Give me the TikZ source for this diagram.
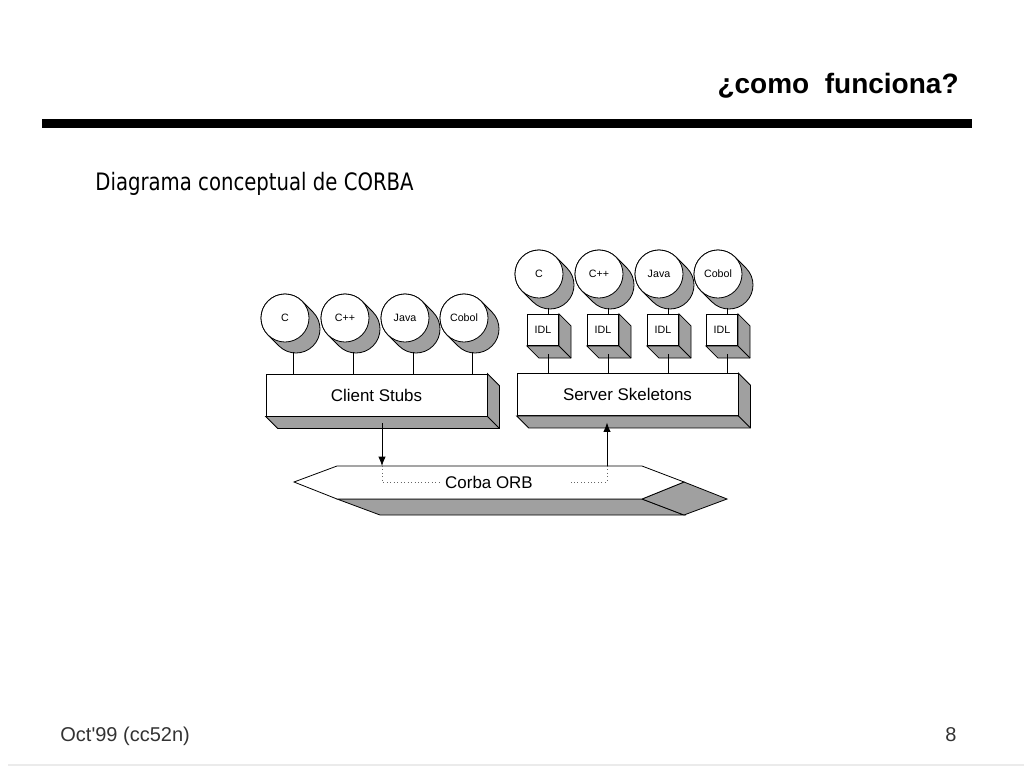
\documentclass[tikz,border=0pt]{standalone}
\usepackage{fontspec}
\setmainfont{Liberation Sans}
\newfontfamily\subfont[FakeStretch=0.82]{DejaVu Sans}
\newfontfamily\footfont{Liberation Sans}
\usetikzlibrary{arrows.meta}
\usetikzlibrary{calc}
\definecolor{shade}{HTML}{A0A0A0}

\begin{document}
\begin{tikzpicture}[x=0.75pt,y=-0.75pt,line width=0.6pt,
  lang/.style={circle,draw,fill=white,minimum size=36pt,inner sep=0pt,font=\fontsize{8}{9}\selectfont},
  hull/.style={draw,fill=shade},
  front/.style={rectangle,draw,fill=white,inner sep=0pt},
  bigbox/.style={front,minimum width=165.75pt,minimum height=31.5pt,font=\fontsize{12.7}{14}\selectfont},
  idlbox/.style={front,minimum width=23.5pt,minimum height=23.5pt,font=\fontsize{8}{9}\selectfont},
  face/.style={draw,fill=shade},
  flow/.style={-{Latex[length=7pt,width=5.5pt]}},
  dotline/.style={black!60,line width=0.5pt,dash pattern=on 0.6pt off 2pt}]
\useasboundingbox (0,0) rectangle (1024,768);

% header
\node[anchor=base east,inner sep=0pt,font=\fontsize{21}{24}\selectfont\bfseries] (title) at (959,93) {¿como~~funciona?};
\fill (42,119) rectangle (972,128);
\node[anchor=base west,inner sep=0pt,font=\fontsize{18}{21}\selectfont\subfont] (sub) at (95,190) {Diagrama conceptual de CORBA};

% client side
\node[bigbox] (stubs) at (376.5,395) {Client Stubs};
\filldraw[face] (stubs.north east) -- ++(12,12) -- ($(stubs.south east)+(12,12)$) -- ($(stubs.south west)+(12,12)$) -- (stubs.south west) -- (stubs.south east) -- cycle;
\draw (stubs.south east) -- ++(12,12);
\filldraw[hull] (285,318) ++(45:18pt) arc[start angle=45,end angle=225,radius=18pt] -- ++(11,11) arc[start angle=225,end angle=405,radius=18pt] -- cycle;
\node[lang] (cl1) at (285,318) {C};
\filldraw[hull] (345,318) ++(45:18pt) arc[start angle=45,end angle=225,radius=18pt] -- ++(11,11) arc[start angle=225,end angle=405,radius=18pt] -- cycle;
\node[lang] (cl2) at (345,318) {C++};
\filldraw[hull] (405,318) ++(45:18pt) arc[start angle=45,end angle=225,radius=18pt] -- ++(11,11) arc[start angle=225,end angle=405,radius=18pt] -- cycle;
\node[lang] (cl3) at (405,318) {Java};
\filldraw[hull] (464,318) ++(45:18pt) arc[start angle=45,end angle=225,radius=18pt] -- ++(11,11) arc[start angle=225,end angle=405,radius=18pt] -- cycle;
\node[lang] (cl4) at (464,318) {Cobol};
\draw ([shift={(8,10)}]cl1.south) -- ([xshift=6pt]cl1.south |- stubs.north);
\draw ([shift={(8,10)}]cl2.south) -- ([xshift=6pt]cl2.south |- stubs.north);
\draw ([shift={(8,10)}]cl3.south) -- ([xshift=6pt]cl3.south |- stubs.north);
\draw ([shift={(8,10)}]cl4.south) -- ([xshift=6pt]cl4.south |- stubs.north);

% server side
\node[bigbox] (skel) at (627.5,394.5) {Server Skeletons};
\filldraw[face] (skel.north east) -- ++(12,12) -- ($(skel.south east)+(12,12)$) -- ($(skel.south west)+(12,12)$) -- (skel.south west) -- (skel.south east) -- cycle;
\draw (skel.south east) -- ++(12,12);
\filldraw[hull] (539,274) ++(45:18pt) arc[start angle=45,end angle=225,radius=18pt] -- ++(11,11) arc[start angle=225,end angle=405,radius=18pt] -- cycle;
\node[lang] (sl1) at (539,274) {C};
\filldraw[hull] (599,274) ++(45:18pt) arc[start angle=45,end angle=225,radius=18pt] -- ++(11,11) arc[start angle=225,end angle=405,radius=18pt] -- cycle;
\node[lang] (sl2) at (599,274) {C++};
\filldraw[hull] (659,274) ++(45:18pt) arc[start angle=45,end angle=225,radius=18pt] -- ++(11,11) arc[start angle=225,end angle=405,radius=18pt] -- cycle;
\node[lang] (sl3) at (659,274) {Java};
\filldraw[hull] (718,274) ++(45:18pt) arc[start angle=45,end angle=225,radius=18pt] -- ++(11,11) arc[start angle=225,end angle=405,radius=18pt] -- cycle;
\node[lang] (sl4) at (718,274) {Cobol};
\node[idlbox] (idl1) at (543,330) {IDL}; \filldraw[face] (idl1.north east) -- ++(12,12) -- ($(idl1.south east)+(12,12)$) -- ($(idl1.south west)+(12,12)$) -- (idl1.south west) -- (idl1.south east) -- cycle;
\node[idlbox] (idl2) at (603,330) {IDL}; \filldraw[face] (idl2.north east) -- ++(12,12) -- ($(idl2.south east)+(12,12)$) -- ($(idl2.south west)+(12,12)$) -- (idl2.south west) -- (idl2.south east) -- cycle;
\node[idlbox] (idl3) at (663,330) {IDL}; \filldraw[face] (idl3.north east) -- ++(12,12) -- ($(idl3.south east)+(12,12)$) -- ($(idl3.south west)+(12,12)$) -- (idl3.south west) -- (idl3.south east) -- cycle;
\node[idlbox] (idl4) at (722,330) {IDL}; \filldraw[face] (idl4.north east) -- ++(12,12) -- ($(idl4.south east)+(12,12)$) -- ($(idl4.south west)+(12,12)$) -- (idl4.south west) -- (idl4.south east) -- cycle;
\draw (idl1.south east) -- ++(12,12); \draw (idl2.south east) -- ++(12,12);
\draw (idl3.south east) -- ++(12,12); \draw (idl4.south east) -- ++(12,12);
\draw ([shift={(9,10)}]sl1.south) -- ([xshift=3.75pt]idl1.north);
\draw ([shift={(9,10)}]sl2.south) -- ([xshift=3.75pt]idl2.north);
\draw ([shift={(9,10)}]sl3.south) -- ([xshift=3.75pt]idl3.north);
\draw ([shift={(9,10)}]sl4.south) -- ([xshift=3.75pt]idl4.north);
\draw ([shift={(5,8)}]idl1.south) -- ([xshift=3.75pt]idl1.south |- skel.north);
\draw ([shift={(5,8)}]idl2.south) -- ([xshift=3.75pt]idl2.south |- skel.north);
\draw ([shift={(5,8)}]idl3.south) -- ([xshift=3.75pt]idl3.south |- skel.north);
\draw ([shift={(5,8)}]idl4.south) -- ([xshift=3.75pt]idl4.south |- skel.north);

% ORB
\filldraw[face] (337,499) -- (642,499) -- (684,515) -- (380,515) -- cycle;
\filldraw[face] (642,499) -- (684,482) -- (727,499) -- (684,515) -- cycle;
\filldraw[fill=white] (294,482) -- (337,466) -- (642,466) -- (684,482) -- (642,499) -- (337,499) -- cycle;
\node[font=\fontsize{12.7}{14}\selectfont] (orb) at (489,482) {Corba ORB};
\coordinate (inl) at (382,466); \coordinate (inr) at (607,466);
\draw[dotline] (inl) |- (orb.west);
\draw[dotline] (inr) |- ([xshift=24.75pt]orb.east);
\draw[flow] ([yshift=-5pt]stubs.south -| inl) -- (inl);
\draw[flow] (inr) -- ([yshift=-5pt]skel.south -| inr);

% footer
\node[anchor=base west,inner sep=0pt,font=\fontsize{15}{18}\selectfont\footfont,black!80] (date) at (60,741) {Oct'99 (cc52n)};
\node[anchor=base east,inner sep=0pt,font=\fontsize{15}{18}\selectfont\footfont,black!80] (page) at (957,741) {8};
\draw[black!8,line width=1pt] (8,765) -- (1024,765);
\end{tikzpicture}
\end{document}
